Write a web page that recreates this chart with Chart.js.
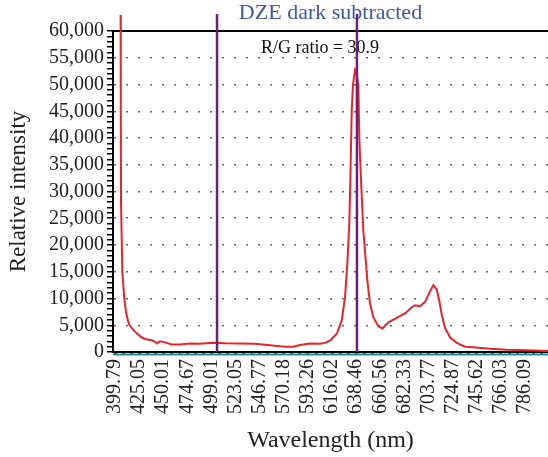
<!DOCTYPE html>
<html>
<head>
<meta charset="utf-8">
<script src="https://cdn.jsdelivr.net/npm/chart.js@4.4.1/dist/chart.umd.min.js"></script>
<style>
  html, body { margin: 0; padding: 0; background: #fff; }
  #wrap { width: 548px; height: 457px; }
</style>
</head>
<body>
<div id="wrap"><canvas id="myChart" width="548" height="457"></canvas></div>
<script>
// wavelength label at every tick step of the detector axis (nm)
var wavelengthLabels = ['399.79', '425.05', '450.01', '474.67', '499.01', '523.05',
  '546.77', '570.18', '593.26', '616.02', '638.46', '660.56', '682.33', '703.77',
  '724.87', '745.62', '766.03', '786.09'];

// spectrum: position along the axis (in tick steps) and intensity
var specPos = [0.232, 0.240, 0.249, 0.303, 0.386, 0.456, 0.527, 0.601, 0.692, 0.788,
  0.900, 1.107, 1.285, 1.522, 1.658, 1.741, 1.866, 2.073, 2.351, 2.695,
  3.109, 3.524, 4.063, 4.561, 5.182, 5.804, 6.219, 6.633, 7.048, 7.380,
  7.670, 8.085, 8.500, 8.706, 8.914, 9.080, 9.192, 9.287, 9.399, 9.536,
  9.631, 9.714, 9.755, 9.813, 9.867, 9.950, 10.012, 10.087, 10.128, 10.199,
  10.294, 10.460, 10.572, 10.709, 10.916, 11.090, 11.331, 11.679, 12.023, 12.301,
  12.438, 12.645, 12.852, 13.031, 13.197, 13.337, 13.445, 13.545, 13.682, 13.889,
  14.167, 14.511, 14.842, 15.547, 16.240, 17.069, 17.952];
var specVal = [63000, 45000, 28000, 15000, 10000, 7500, 6000, 5000, 4500, 4000,
  3500, 2700, 2400, 2200, 1900, 1600, 2000, 1800, 1400, 1400,
  1600, 1550, 1750, 1650, 1600, 1550, 1350, 1150, 1000, 1000,
  1300, 1600, 1550, 1700, 2100, 2900, 3400, 4500, 5900, 10250,
  16500, 24000, 32000, 45000, 50000, 52700, 52000, 50000, 40000, 32000,
  22750, 13400, 9000, 6500, 4800, 4400, 5560, 6400, 7200, 8375,
  8750, 8560, 9375, 11060, 12500, 11700, 9500, 7000, 4500, 2750,
  1700, 1000, 900, 620, 440, 320, 200];

// vertical marker lines (green / red bands)
var markerPos = [4.23, 10.03];
var markerTop = 63200;

// dark reference trace, just under zero
var darkPos = [-0.08, 17.95];
var darkVal = [-450, -450];

var xMin = -0.083, xMax = 17.95;

Chart.defaults.font.family = "'Liberation Serif', 'Times New Roman', serif";

function toPoints(xs, ys) {
  return xs.map(function (x, i) { return { x: x, y: ys[i] }; });
}

var markerSets = markerPos.map(function (p) {
  return {
    data: [{ x: p, y: 0 }, { x: p, y: markerTop }],
    borderColor: '#6b1f7c',
    borderWidth: 2.5,
    pointRadius: 0,
    clip: false
  };
});

var decor = {
  id: 'decor',
  beforeDatasetsDraw: function (chart) {
    var ctx = chart.ctx, a = chart.chartArea;
    ctx.save();
    ctx.strokeStyle = '#000';
    ctx.lineWidth = 2;
    ctx.beginPath();
    ctx.moveTo(a.left, a.top);
    ctx.lineTo(a.right, a.top);
    ctx.stroke();
    ctx.textAlign = 'center';
    ctx.textBaseline = 'middle';
    ctx.fillStyle = '#111';
    ctx.font = "18px 'Liberation Serif'";
    ctx.fillText('R/G ratio = 30.9', 320, 48);
    ctx.fillStyle = '#4157a5';
    ctx.font = "22px 'Liberation Serif'";
    ctx.fillText('DZE dark subtracted', (a.left + a.right) / 2, 13);
    ctx.restore();
  }
};

var ctx = document.getElementById('myChart').getContext('2d');
var myChart = new Chart(ctx, {
  type: 'line',
  data: {
    datasets: markerSets.concat([
      {
        data: toPoints(specPos, specVal),
        borderColor: '#e8242b',
        borderWidth: 2,
        pointRadius: 0,
        tension: 0,
        clip: false
      },
      {
        data: toPoints(darkPos, darkVal),
        borderColor: '#1b9191',
        borderWidth: 2,
        pointRadius: 0,
        clip: false
      }
    ])
  },
  options: {
    responsive: false,
    animation: false,
    devicePixelRatio: 1,
    layout: { padding: { top: 31, right: 0, left: 0, bottom: 0 } },
    plugins: { legend: { display: false }, tooltip: { enabled: false } },
    scales: {
      x: {
        type: 'linear',
        min: xMin,
        max: xMax,
        afterBuildTicks: function (scale) {
          var t = [];
          for (var i = 0; i / 3 <= xMax; i++) t.push({ value: i / 3 });
          scale.ticks = t;
        },
        afterFit: function (scale) {
          scale.height = 105;
          scale.paddingLeft = 0;
          scale.paddingRight = 0;
        },
        ticks: {
          autoSkip: false,
          minRotation: 90,
          maxRotation: 90,
          padding: 4,
          color: '#222',
          font: { size: 20 },
          callback: function (v) {
            var k = Math.round(v);
            return Math.abs(v - k) < 1e-6 ? wavelengthLabels[k] : '';
          }
        },
        grid: { drawOnChartArea: false, tickLength: 3, tickColor: '#000', tickWidth: 2 },
        border: { color: '#000', width: 2 },
        title: { display: true, text: 'Wavelength (nm)', color: '#222', font: { size: 24 }, padding: { top: 0, bottom: 2 } }
      },
      y: {
        min: 0,
        max: 60000,
        afterBuildTicks: function (scale) {
          var t = [];
          for (var v = 0; v <= 60000; v += 1000) t.push({ value: v });
          scale.ticks = t;
        },
        afterFit: function (scale) {
          scale.width = 113;
          scale.paddingTop = 0;
          scale.paddingBottom = 0;
        },
        ticks: {
          autoSkip: false,
          padding: 3,
          color: '#222',
          font: { size: 20 },
          callback: function (v) {
            return v % 5000 === 0 ? v.toLocaleString('en-US') : '';
          }
        },
        grid: {
          color: function (c) {
            var v = c.tick ? c.tick.value : 0;
            return (v % 5000 === 0 && v > 0 && v < 60000) ? '#666' : 'rgba(0,0,0,0)';
          },
          lineWidth: 1.5,
          tickColor: '#000',
          tickLength: 6,
          tickWidth: 1.5
        },
        border: { color: '#000', width: 2, dash: [2, 10] },
        title: { display: true, text: 'Relative intensity', color: '#222', font: { size: 23 }, padding: { top: 5, bottom: 0 } }
      }
    }
  },
  plugins: [decor]
});
</script>
</body>
</html>
